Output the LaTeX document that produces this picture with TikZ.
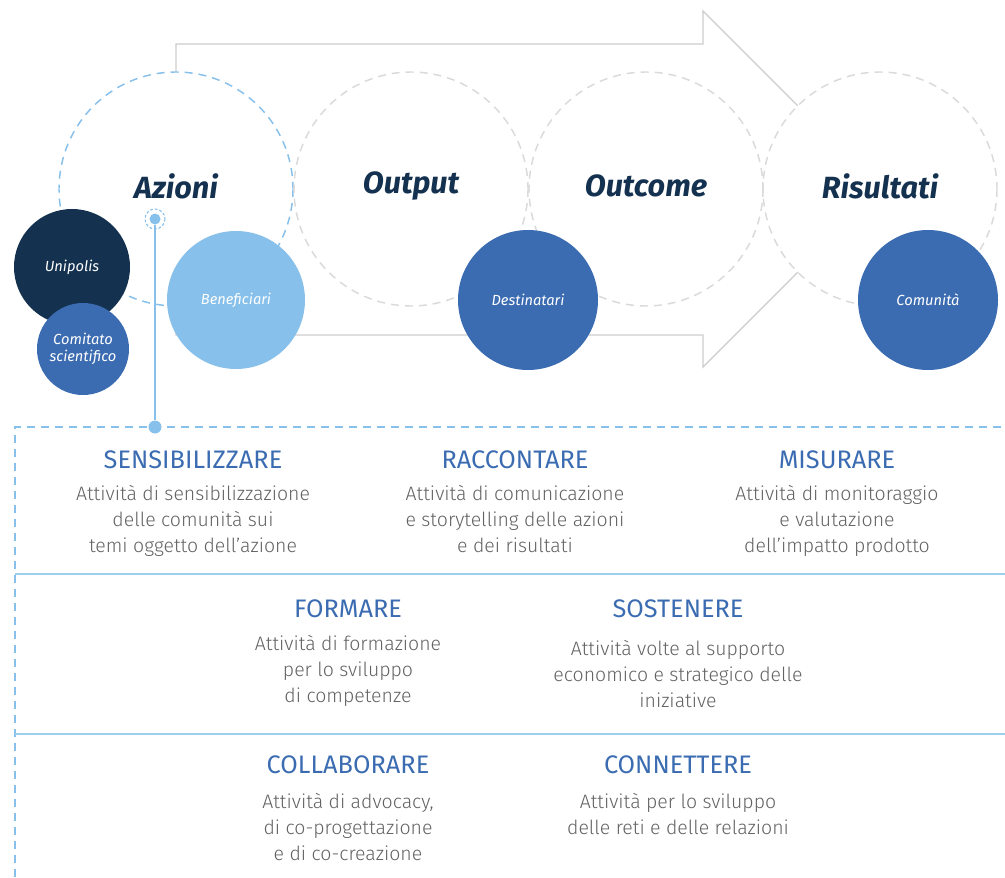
\documentclass[tikz,border=0pt]{standalone}
\usepackage{fontspec}
\setmainfont{Fira Sans}
\newfontfamily\lightfont{Fira Sans Light}
\usetikzlibrary{positioning}

\definecolor{navyblue}{RGB}{20,50,79}
\definecolor{midblue}{RGB}{59,108,177}
\definecolor{skyblue}{RGB}{135,192,234}
\definecolor{ringgray}{RGB}{218,218,218}
\definecolor{arrowgray}{RGB}{204,204,204}
\definecolor{textgray}{RGB}{98,98,98}

\tikzset{every picture/.style={line width=0.75pt}}
\tikzset{
  arrowline/.style={draw=arrowgray, line width=1pt, line join=miter},
  phasering/.style={dash pattern={on 6pt off 4.5pt}, line width=1.1pt},
  phasetitle/.style={font=\fontsize{23}{27}\selectfont\bfseries\itshape, text=navyblue, inner sep=0.75pt},
  bubble/.style={circle, inner sep=0pt, text=white, align=center, font=\fontsize{11}{13}\selectfont\itshape},
  dot/.style={circle, fill=skyblue, inner sep=0pt},
  link/.style={draw=skyblue, line width=1.5pt},
  boxdash/.style={draw=skyblue, line width=1.5pt, dash pattern={on 6pt off 4.5pt}},
  rowline/.style={draw=skyblue!80, line width=1.1pt},
  acthead/.style={font=\fontsize{19}{22}\selectfont, text=midblue, inner sep=0.75pt},
  acttext/.style={font=\lightfont\fontsize{14.6}{19.5}\selectfont, text=textgray, align=center, inner sep=0.75pt},
}

\begin{document}
\begin{tikzpicture}[x=0.75pt,y=0.75pt,yscale=-1,xscale=1]
        \useasboundingbox (0,0) rectangle (1005,877);

        %Shape: Big Arrow
        \draw [arrowline] (176,335) -- (176,44) -- (703,44) -- (703,11) -- (881,189) -- (703,367) -- (703,335) -- cycle ;

        %Shape: Phase Circles
        \foreach \cx in {176,411,646,880}
          \fill [white] (\cx,189) circle [radius=117] ;
        \draw [phasering, skyblue] (176,189) circle [radius=117] ;
        \foreach \cx in {411,646,880}
          \draw [phasering, ringgray] (\cx,189) circle [radius=117] ;

        % Text Node
        \node (azioni) [phasetitle] at (176,186) {Azioni};
        % Text Node
        \node (output) [phasetitle] at (411,186) {Output};
        % Text Node
        \node (outcome) [phasetitle] at (646,186) {Outcome};
        % Text Node
        \node (risultati) [phasetitle] at (880,186) {Risultati};

        %Shape: Circles
        \node (unipolis) [bubble, fill=navyblue, minimum size=87pt] at (72,267) {Unipolis};
        \node (comitato) [bubble, fill=midblue, minimum size=69pt] at (83,349) {Comitato\\scientifico};
        \node (beneficiari) [bubble, fill=skyblue, minimum size=103.5pt] at (236,300) {Beneficiari};
        \node (destinatari) [bubble, fill=midblue, minimum size=105pt] at (528,300) {Destinatari};
        \node (comunita) [bubble, fill=midblue, minimum size=105pt] at (928,300) {Comunità};

        %Straight Lines: connector
        \node (topdot) [dot, minimum size=8.25pt] at (155,219) {};
        \draw [skyblue, line width=0.8pt, dash pattern={on 2pt off 1.5pt}] (155,219) circle [radius=10] ;
        \node (botdot) [dot, minimum size=9.75pt] at (155,427) {};
        \draw [link] (topdot) -- (botdot) ;

        %Straight Lines: activity box
        \draw [boxdash] (15,877) -- (15,427) -- (1005,427) ;
        \draw [rowline] (15,574) -- (1005,574) ;
        \draw [rowline] (15,734) -- (1005,734) ;

        % Text Node
        \node (sensibilizzare) [acthead] at (193,460) {SENSIBILIZZARE};
        \node (sensibilizzaretxt) [acttext] at (193,521) {Attività di sensibilizzazione\\delle comunità sui\\temi oggetto dell’azione};
        % Text Node
        \node (raccontare) [acthead] at (515,460) {RACCONTARE};
        \node (raccontaretxt) [acttext] at (515,519) {Attività di comunicazione\\e storytelling delle azioni\\e dei risultati};
        % Text Node
        \node (misurare) [acthead] at (837,460) {MISURARE};
        \node (misuraretxt) [acttext] at (837,521) {Attività di monitoraggio\\e valutazione\\dell’impatto prodotto};
        % Text Node
        \node (formare) [acthead] at (348,609) {FORMARE};
        \node (formaretxt) [acttext] at (348,671) {Attività di formazione\\per lo sviluppo\\di competenze};
        % Text Node
        \node (sostenere) [acthead] at (678,609) {SOSTENERE};
        \node (sosteneretxt) [acttext] at (678,674) {Attività volte al supporto\\economico e strategico delle\\iniziative};
        % Text Node
        \node (collaborare) [acthead] at (348,765) {COLLABORARE};
        \node (collaboraretxt) [acttext] at (348,827) {Attività di advocacy,\\di co-progettazione\\e di co-creazione};
        % Text Node
        \node (connettere) [acthead] at (678,765) {CONNETTERE};
        \node (connetteretxt) [acttext] at (678,814) {Attività per lo sviluppo\\delle reti e delle relazioni};

    \end{tikzpicture}
\end{document}
